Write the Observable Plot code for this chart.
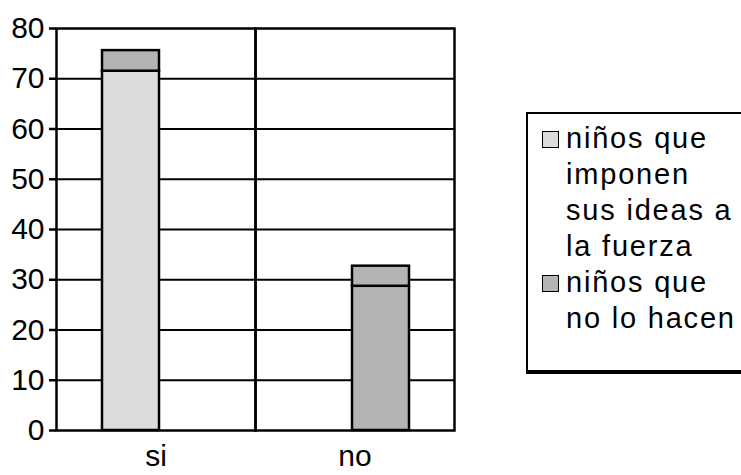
<!DOCTYPE html>
<html>
<head>
<meta charset="utf-8">
<script src="https://cdn.jsdelivr.net/npm/d3@7"></script>
<script src="https://cdn.jsdelivr.net/npm/@observablehq/plot@0.6"></script>
<style>
  html, body { margin: 0; padding: 0; background: #fff; }
  #wrap { position: relative; width: 741px; height: 475px; overflow: hidden; font-family: "Liberation Sans", Arial, sans-serif; }
  #wrap svg { position: absolute; left: 0; top: 0; }
  .legend { position: absolute; left: 526px; top: 112px; width: 260px; height: 262px;
            border-left: 2px solid #000; border-top: 2px solid #000; border-bottom: 4px solid #000; box-sizing: border-box; }
  .item { position: absolute; left: 14px; }
  .sw { position: absolute; left: 0; width: 17px; height: 17px; border: 1.5px solid #000; box-sizing: border-box; }
  .txt { position: absolute; left: 24px; font-size: 29px; line-height: 36px; white-space: nowrap; color: #000; letter-spacing: 1.8px; }
</style>
</head>
<body>
<div id="wrap"></div>
<script>
// ---- data ----
const categories = ["si", "no"];
const series = ["niños que imponen sus ideas a la fuerza", "niños que no lo hacen"];
const lowerValues = [71.5, 28.7];   // lower segment of each bar
const upperValues = [4.1, 4.0];     // upper segment of each bar
const yTicks = [0, 10, 20, 30, 40, 50, 60, 70, 80];
const legendLines = [["niños que", "imponen", "sus ideas a", "la fuerza"], ["niños que", "no lo hacen"]];
const fills = ["#dcdcdc", "#b4b4b4"];

// table: bar i sits in slot series[i]; lower segment coloured by its series, upper by the second series
const rows = [];
categories.forEach((c, i) => {
  rows.push({cat: c, slot: series[i], seg: series[i], value: lowerValues[i]});
  rows.push({cat: c, slot: series[i], seg: series[1], value: upperValues[i]});
});

const font = '"Liberation Sans", Arial, sans-serif';
const chart = Plot.plot({
  width: 741,
  height: 475,
  marginLeft: 55,
  marginRight: 287,
  marginTop: 28,
  marginBottom: 45,
  style: {fontFamily: font, color: "#000", background: "transparent", overflow: "visible"},
  fx: {domain: categories, padding: 0, label: null},
  x: {type: "band", domain: series, paddingInner: 0, paddingOuter: 0.93, align: 0.5, axis: null},
  y: {domain: [0, 80], label: null},
  color: {domain: series, range: fills},
  marks: [
    Plot.ruleY(yTicks.filter(t => t > 0 && t < 80), {stroke: "#000", strokeWidth: 2.2}),
    Plot.barY(rows, {fx: "cat", x: "slot", y: "value", fill: "seg", stroke: "#000", strokeWidth: 2.5, insetLeft: -3, insetRight: -3}),
    Plot.frame({stroke: "#000", strokeWidth: 2.5}),
    Plot.axisY({ticks: yTicks, anchor: "left", label: null, tickSize: 7, tickPadding: 5, fontSize: 30, strokeWidth: 2.5, stroke: "#000", fill: "#000"}),
    Plot.axisFx({anchor: "bottom", label: null, tickSize: 0, tickPadding: 14, fontSize: 30, fill: "#000"})
  ]
});
const wrap = document.getElementById("wrap");
wrap.appendChild(chart);

// legend (HTML overlay to the right of the plot)
const legend = document.createElement("div");
legend.className = "legend";
const lineH = 36;
let lineIdx = 0;
legendLines.forEach((lines, i) => {
  const item = document.createElement("div");
  item.className = "item";
  item.style.top = (6 + lineIdx * lineH) + "px";
  const sw = document.createElement("div");
  sw.className = "sw";
  sw.style.top = "11px";
  sw.style.background = fills[i];
  sw.title = series[i];
  const txt = document.createElement("div");
  txt.className = "txt";
  txt.style.top = "0px";
  txt.innerHTML = lines.join("<br>");
  item.appendChild(sw);
  item.appendChild(txt);
  legend.appendChild(item);
  lineIdx += lines.length;
});
wrap.appendChild(legend);
</script>
</body>
</html>
